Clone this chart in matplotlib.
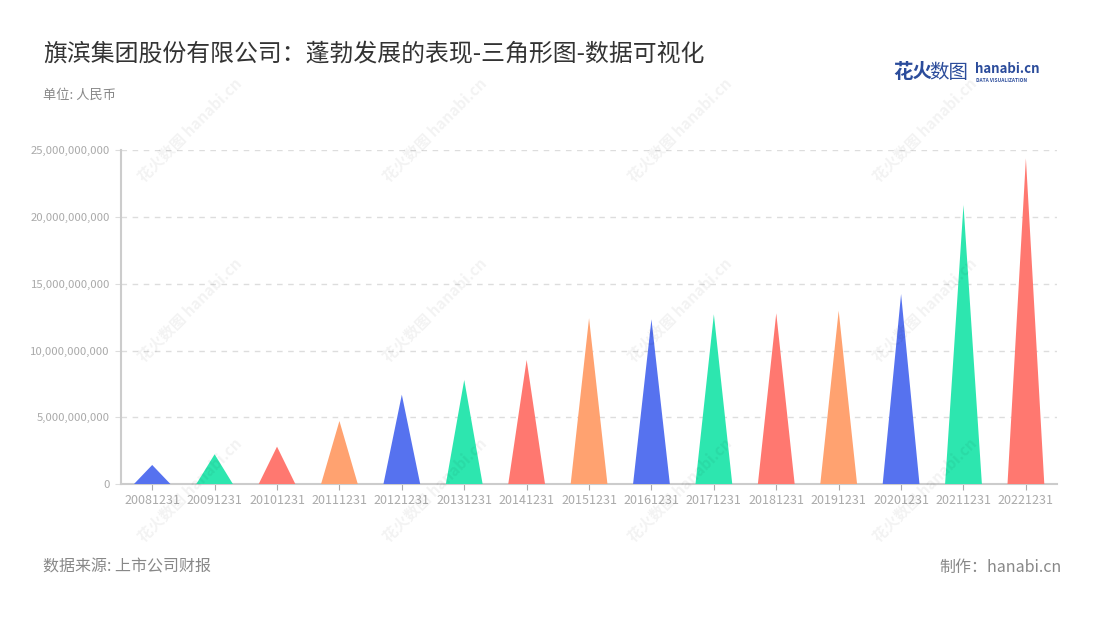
import numpy as np
import matplotlib.pyplot as plt
from matplotlib.ticker import FuncFormatter

plt.rcParams['font.family'] = ['Noto Sans CJK SC', 'DejaVu Sans']

# 数据
years = ['20081231', '20091231', '20101231', '20111231', '20121231',
         '20131231', '20141231', '20151231', '20161231', '20171231',
         '20181231', '20191231', '20201231', '20211231', '20221231']
revenue = [1.44e9, 2.24e9, 2.81e9, 4.73e9, 6.70e9,
           7.80e9, 9.30e9, 12.42e9, 12.34e9, 12.71e9,
           12.79e9, 12.98e9, 14.23e9, 20.89e9, 24.38e9]
palette = ['#5672EF', '#2DE6AF', '#FF7870', '#FFA270']

fig = plt.figure(figsize=(11, 6.2), dpi=100, facecolor='white')
ax = fig.add_axes([0.11, 0.219, 0.851, 0.539])

# 三角形
half = 0.295
for i, v in enumerate(revenue):
    ax.fill([i - half, i, i + half], [0, v, 0], color=palette[i % 4], lw=0, zorder=3)

ax.set_xlim(-0.5, len(years) - 0.5)
ax.set_ylim(0, 25e9)
ax.set_yticks(np.arange(0, 25e9 + 1, 5e9))
ax.yaxis.set_major_formatter(FuncFormatter(lambda v, p: f'{v:,.0f}'))
ax.set_xticks(range(len(years)))
ax.set_xticklabels(years)

ax.grid(axis='y', color='#dddddd', linestyle=(0, (4, 4)), linewidth=1, zorder=0)
for s in ['top', 'right']:
    ax.spines[s].set_visible(False)
for s in ['left', 'bottom']:
    ax.spines[s].set_color('#cccccc')
    ax.spines[s].set_linewidth(1.5)
ax.tick_params(axis='x', colors='#aaaaaa', labelsize=9, length=4, color='#aaaaaa', pad=3)
ax.tick_params(axis='y', colors='#aaaaaa', labelsize=8.2, length=4, color='#dddddd', pad=4)

# 水印
for cx in [190, 435, 680, 925]:
    for cy in [130, 310, 490]:
        fig.text(cx / 1100, 1 - cy / 620, '花火数图 hanabi.cn', rotation=45,
                 ha='center', va='center', fontsize=11, color='#000000', alpha=0.05,
                 fontweight='bold', zorder=0)

# 标题等
fig.text(43 / 1100, 1 - 55 / 620, '旗滨集团股份有限公司：蓬勃发展的表现-三角形图-数据可视化',
         fontsize=17.2, color='#333333', va='center', ha='left')
fig.text(43 / 1100, 1 - 95 / 620, '单位: 人民币', fontsize=9.5, color='#888888',
         va='center', ha='left')
fig.text(43 / 1100, 1 - 567 / 620, '数据来源: 上市公司财报', fontsize=11.5, color='#888888',
         va='center', ha='left')
fig.text(1062 / 1100, 1 - 567 / 620, '制作：hanabi.cn', fontsize=11.5, color='#888888',
         va='center', ha='right')

# logo
fig.text(893 / 1100, 1 - 73 / 620, '花火', fontsize=14, fontweight='bold', color='#2B4C9B',
         va='center', ha='left')
fig.text(929 / 1100, 1 - 73 / 620, '数图', fontsize=14, color='#2B4C9B',
         va='center', ha='left')
fig.text(975 / 1100, 1 - 69 / 620, 'hanabi.cn', fontsize=9.5, fontweight='bold',
         color='#2B4C9B', va='center', ha='left')
fig.text(976 / 1100, 1 - 80 / 620, 'DATA VISUALIZATION', fontsize=3.5, fontweight='bold',
         color='#2B4C9B', va='center', ha='left')

fig.savefig('out.png', dpi=100, facecolor='white')
